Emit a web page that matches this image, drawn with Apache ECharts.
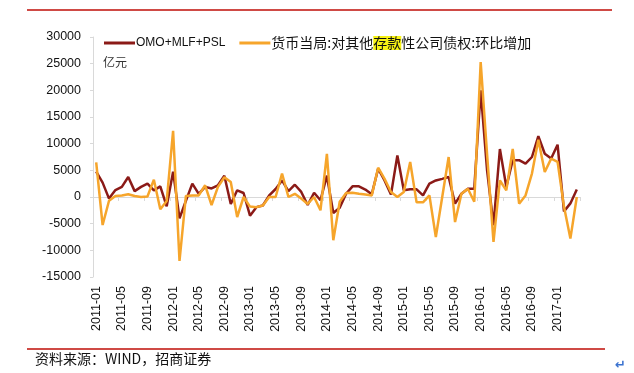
<!DOCTYPE html>
<html>
<head>
<meta charset="utf-8">
<script src="https://cdn.jsdelivr.net/npm/echarts@6/dist/echarts.min.js"></script>
<style>
html,body{margin:0;padding:0;background:#fff;}
#c{width:634px;height:373px;}
</style>
</head>
<body>
<div id="c"></div>
<script>
// Monthly categories 2011-01 .. 2017-04
const categories = [];
for (let y = 2011; y <= 2017; y++) {
  for (let m = 1; m <= 12; m++) {
    if (y === 2017 && m > 4) break;
    categories.push(y + '-' + String(m).padStart(2, '0'));
  }
}
const seriesNames = ['OMO+MLF+PSL', '货币当局:对其他存款性公司债权:环比增加'];
const omoValues = [
  4750, 2700, -300, 1300, 1900, 3750, 1100, 1900, 2500, 1250, 2000, -1750,
  4750, -4000, -700, 2500, 600, 1900, 1600, 2200, 4000, -1300, 1250, 750,
  -3500, -1900, -1600, 300, 1500, 3100, 1100, 2300, 950, -1500, 800, -600,
  4000, -3000, -2000, 600, 2000, 2000, 1400, 500, 5300, 3100, 450, 7800,
  1250, 1440, 1440, 300, 2500, 3100, 3400, 3750, -1250, 600, 1560, 1560,
  20000, 5000, -5300, 9000, 1900, 6900, 6900, 6250, 7500, 11400, 8100, 7200,
  9800, -2700, -1200, 1400
];
const claimValues = [
  6500, -5250, -700, 200, 300, 500, 200, 0, 100, 3250, -2300, -750,
  12400, -12000, 200, 300, 300, 2200, -1500, 1900, 3700, 2800, -3750, 0,
  -1800, -1900, -1600, 0, 0, 4400, 0, 600, -300, -1300, 0, -2500,
  8100, -8100, -900, 750, 800, 600, 450, 300, 5500, 3400, 940, 0,
  940, 6560, -1000, -1000, 300, -7500, 0, 7500, -4700, 600, 1560, -900,
  25300, 8000, -8400, 3100, 1250, 9000, -1250, 300, 4400, 10750, 4700, 7200,
  6600, -1800, -7800, 0
];
const yMin = -15000, yMax = 30000, yInterval = 5000;
const unitLabel = '亿元';
const sourceText = '资料来源：WIND，招商证券';

const chart = echarts.init(document.getElementById('c'), null, {renderer: 'canvas'});
const axisGray = '#d9d9d9';
const option = {
  backgroundColor: '#fff',
  animation: false,
  grid: {left: 93, right: 54, top: 37, bottom: 96, containLabel: false},
  legend: {
    left: 99, top: 31,
    itemWidth: 31, itemHeight: 3, itemGap: 14,
    icon: 'rect',
    data: seriesNames,
    textStyle: {
      color: '#111', fontFamily: 'Liberation Sans, Arial, sans-serif', fontSize: 12, padding: [0, 0, 0, -4],
      rich: {
        c: {fontFamily: 'Noto Sans CJK SC', fontSize: 14, color: '#111'},
        h: {fontFamily: 'Noto Sans CJK SC', fontSize: 14, color: '#111', backgroundColor: '#f7f214'}
      }
    },
    formatter: function (name) {
      if (name === seriesNames[1]) {
        return '{c|货币当局:对其他}{h|存款}{c|性公司债权:环比增加}';
      }
      return name;
    }
  },
  xAxis: [{
    type: 'category',
    data: categories,
    boundaryGap: true,
    axisLine: {show: false, onZero: false},
    axisTick: {show: false},
    axisLabel: {
      interval: 3, rotate: 90, margin: 9,
      fontFamily: 'Liberation Sans, Arial, sans-serif', fontSize: 12.5, color: '#111'
    }
  }, {
    type: 'category',
    data: categories,
    boundaryGap: true,
    position: 'bottom',
    axisLine: {show: true, onZero: true, lineStyle: {color: axisGray, width: 1}},
    axisTick: {show: true, interval: 3, length: 4, lineStyle: {color: axisGray}},
    axisLabel: {show: false}
  }],
  yAxis: {
    type: 'value',
    min: yMin, max: yMax, interval: yInterval,
    axisLine: {show: true, lineStyle: {color: axisGray}},
    axisTick: {show: true, length: 3, lineStyle: {color: axisGray}},
    splitLine: {show: false},
    axisLabel: {
      margin: 12, fontFamily: 'Liberation Sans, Arial, sans-serif', fontSize: 12.5, color: '#111',
      formatter: function (v) { return String(v); }
    }
  },
  series: [{
    name: seriesNames[0],
    type: 'line',
    data: omoValues,
    symbol: 'none',
    color: '#8b1a17',
    lineStyle: {width: 2.5, color: '#8b1a17'}
  }, {
    name: seriesNames[1],
    type: 'line',
    data: claimValues,
    symbol: 'none',
    color: '#f6a52b',
    lineStyle: {width: 2.5, color: '#f6a52b'}
  }],
  graphic: [
    {type: 'line', shape: {x1: 27, y1: 10, x2: 612, y2: 10}, style: {stroke: '#cf4a45', lineWidth: 2}},
    {type: 'line', shape: {x1: 27, y1: 349, x2: 605, y2: 349}, style: {stroke: '#cf4a45', lineWidth: 2}},
    {type: 'text', left: 103, top: 56, style: {text: unitLabel, font: '12px "Noto Sans CJK SC"', fill: '#333'}},
    {type: 'text', left: 35, top: 352, style: {text: sourceText, font: '14px "Noto Sans CJK SC"', fill: '#111'}},
    {type: 'text', left: 615, top: 359, style: {text: '↵', font: 'bold 13px "DejaVu Sans"', fill: '#3b73d0'}}
  ]
};
chart.setOption(option);
</script>
</body>
</html>
